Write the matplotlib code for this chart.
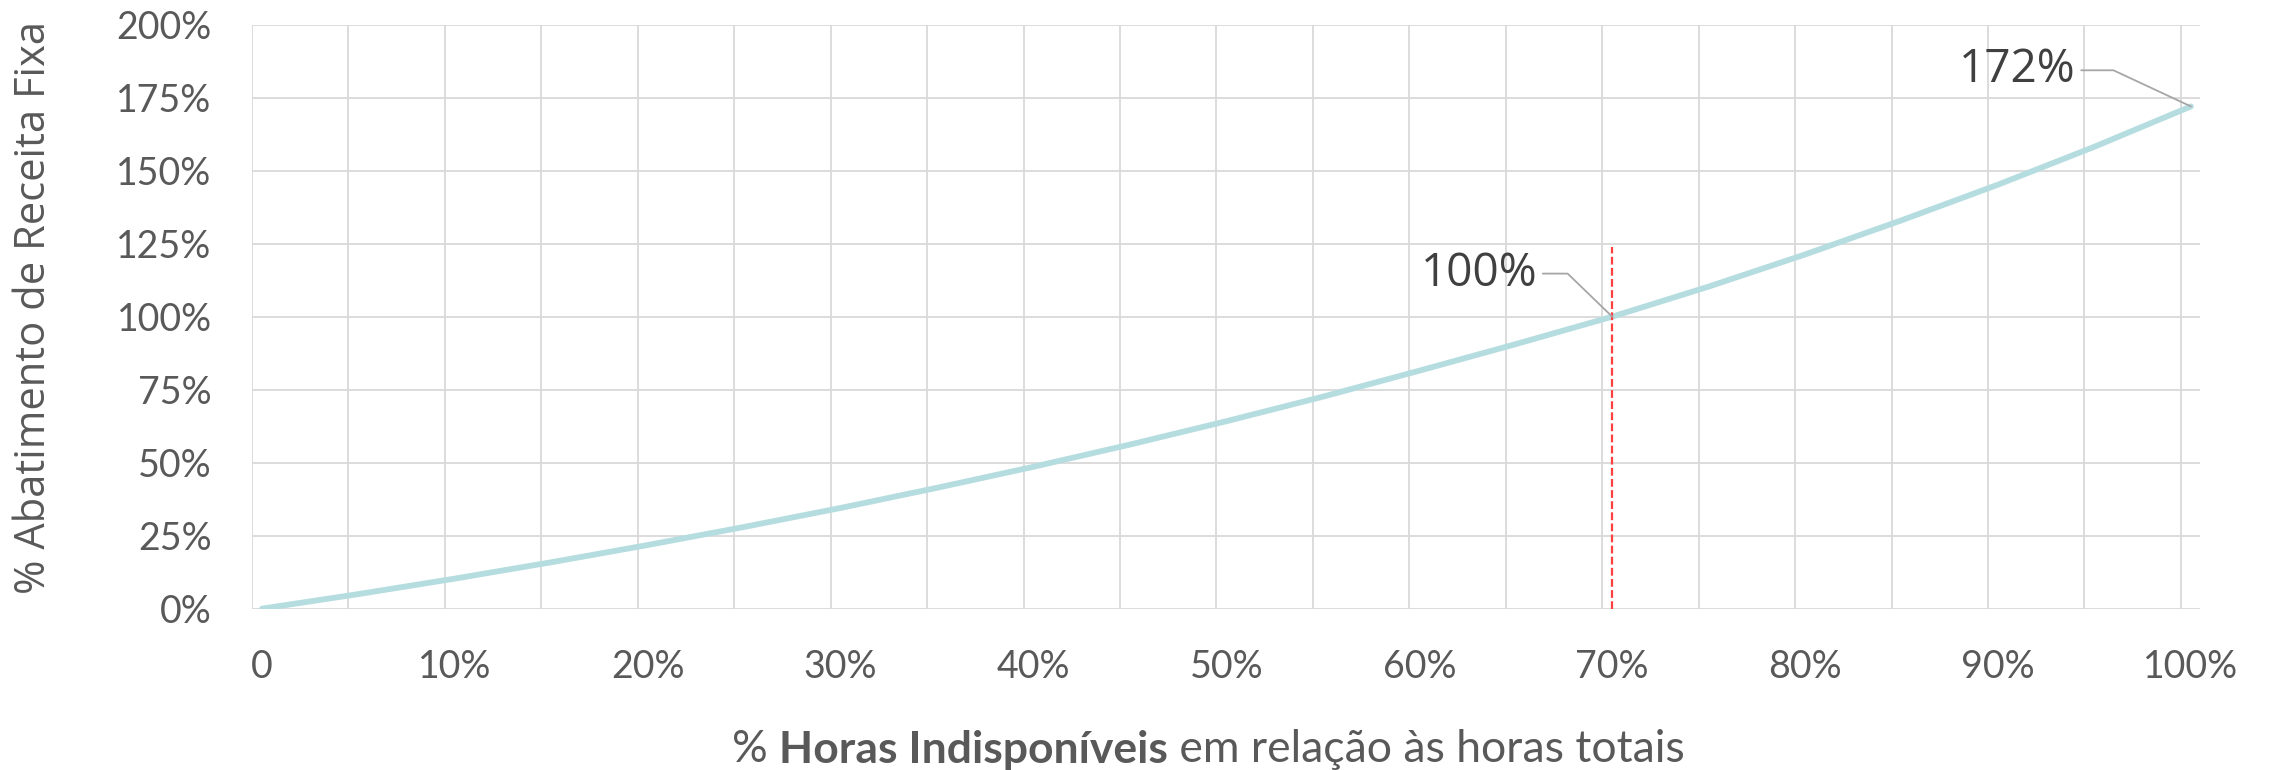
import matplotlib
matplotlib.use('Agg')
from matplotlib import pyplot as plt
import numpy as np

# dados
horas_pct = [0, 5, 10, 15, 20, 25, 30, 35, 40, 45, 50,
             55, 60, 65, 70, 75, 80, 85, 90, 95, 100]
abatimento_pct = [0.0, 5.0, 10.3, 15.9, 21.8, 28.0, 34.5, 41.4, 48.6, 56.2, 64.2,
                  72.6, 81.5, 90.6, 100.0, 110.3, 121.3, 133.0, 145.2, 158.2, 172.0]
x_tick_labels = ['0', '10%', '20%', '30%', '40%', '50%', '60%', '70%', '80%', '90%', '100%']
y_tick_labels = ['0%', '25%', '50%', '75%', '100%', '125%', '150%', '175%', '200%']
limite_x = 0.70      # linha vermelha tracejada
limite_topo = 1.24
rotulos = [(70, 100.0), (100, 172.0)]

x = np.array(horas_pct) / 100
y = np.array(abatimento_pct) / 100

fig = plt.figure(figsize=(22.72, 7.70), dpi=100)
ax = fig.add_axes([0.1109, 0.2095, 0.8574, 0.7585])

grid_col = '#D9D9D9'
txt_col = '#595959'

# categorias do Excel: grade entre as categorias
ax.set_xlim(-0.0052, 1.0047)
ax.set_ylim(0, 2.0)
ax.set_xticks(np.arange(0, 1.01, 0.1))
ax.set_xticklabels(x_tick_labels)
ax.set_xticks(np.arange(21) * 0.05 - 0.0052, minor=True)
ax.set_yticks(np.arange(0, 2.01, 0.25))
ax.set_yticklabels(y_tick_labels)
ax.grid(axis='x', which='minor', color=grid_col, linewidth=1.3)
ax.grid(axis='x', which='major', visible=False)
ax.grid(axis='y', which='major', color=grid_col, linewidth=1.3)
ax.set_axisbelow(True)
for s in ax.spines.values():
    s.set_visible(False)
ax.tick_params(axis='both', which='both', length=0, labelcolor=txt_col, labelsize=27)
ax.tick_params(axis='x', pad=29)
ax.tick_params(axis='y', pad=29)
for lb in ax.get_xticklabels() + ax.get_yticklabels():
    lb.set_family(['Lato', 'DejaVu Sans'])

# curva
ax.plot(x, y, color='#B5DDE0', linewidth=4.2, solid_capstyle='round', zorder=3)

# linha vertical vermelha
ax.vlines(limite_x, 0, limite_topo, colors='#FF4040', linestyles=(0, (3.5, 1.5)),
          linewidth=1.6, zorder=4)

# rótulos de dados com linha de chamada
offsets = {70: (-54, 31), 100: (-83, 26)}
for px, val in rotulos:
    ax.annotate(f'{val:.0f}%', xy=(px / 100, val / 100), xytext=offsets[px],
                textcoords='offset points', ha='right', va='center',
                fontsize=33, color='#404040', family=['Open Sans', 'DejaVu Sans'],
                arrowprops=dict(arrowstyle='-', color='#A6A6A6', linewidth=1.3,
                                relpos=(1, 0.5), shrinkA=2, shrinkB=0,
                                connectionstyle='angle,angleA=0,angleB=%d,rad=0'
                                % (-44 if px == 70 else -25)),
                zorder=5)

# títulos dos eixos
fig.text(34 / 2272, 1 - 308 / 770, '% Abatimento de Receita Fixa', rotation=90,
         ha='center', va='center', fontsize=30, color=txt_col,
         family=['Open Sans', 'DejaVu Sans'])

t1 = fig.text(732 / 2272, 1 - 750 / 770, '%', ha='left', va='center',
              fontsize=32, color=txt_col, family=['Lato', 'DejaVu Sans'])
t2 = ax.annotate(' Horas Indisponíveis', xy=(1, 0), xycoords=t1, ha='left', va='bottom',
                 fontsize=32, color=txt_col, fontweight='bold',
                 family=['Lato', 'DejaVu Sans'], annotation_clip=False)
t3 = ax.annotate(' em relação às horas totais', xy=(1, 0), xycoords=t2, ha='left',
                 va='bottom', fontsize=32, color=txt_col,
                 family=['Lato', 'DejaVu Sans'], annotation_clip=False)

fig.savefig('out.png', dpi=100, facecolor='white')
